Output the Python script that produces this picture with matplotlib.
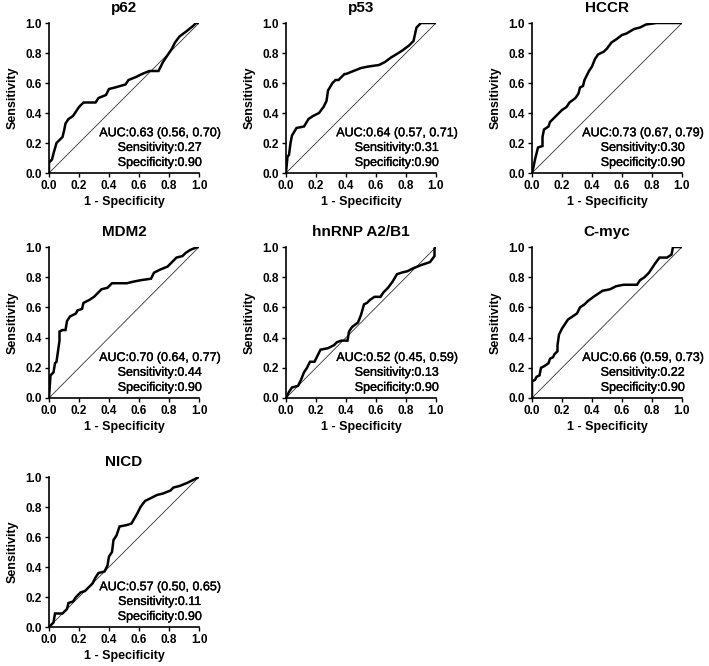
import matplotlib
matplotlib.use("Agg")
import matplotlib.pyplot as plt
import matplotlib.patheffects as pe

plt.rcParams['font.family'] = ['Liberation Sans', 'DejaVu Sans']

# ROC curves (1 - specificity, sensitivity)
p62_fpr = [0, 0, 0.02, 0.03, 0.05, 0.07, 0.09, 0.10, 0.11, 0.13, 0.16, 0.18, 0.20, 0.23, 0.31, 0.33,
           0.38, 0.40, 0.44, 0.51, 0.53, 0.58, 0.62, 0.67, 0.73, 0.76, 0.78, 0.80, 0.82, 0.84, 0.87,
           0.91, 0.96, 0.98, 1.0]
p62_tpr = [0, 0.07, 0.09, 0.13, 0.20, 0.22, 0.24, 0.28, 0.33, 0.36, 0.38, 0.41, 0.44, 0.47, 0.47, 0.50,
           0.52, 0.56, 0.57, 0.59, 0.62, 0.64, 0.66, 0.68, 0.68, 0.74, 0.77, 0.80, 0.83, 0.87, 0.91,
           0.94, 0.98, 1.0, 1.0]

p53_fpr = [0, 0.01, 0.02, 0.03, 0.04, 0.07, 0.12, 0.15, 0.18, 0.22, 0.25, 0.27, 0.28, 0.31, 0.33,
           0.35, 0.39, 0.40, 0.45, 0.50, 0.55, 0.62, 0.66, 0.70, 0.75, 0.78, 0.82, 0.85, 0.87, 0.90, 1.0]
p53_tpr = [0, 0.11, 0.12, 0.20, 0.25, 0.30, 0.31, 0.36, 0.38, 0.40, 0.44, 0.48, 0.55, 0.60, 0.62,
           0.62, 0.66, 0.66, 0.68, 0.70, 0.71, 0.72, 0.74, 0.77, 0.80, 0.82, 0.85, 0.88, 0.97, 1.0, 1.0]

hccr_fpr = [0, 0.01, 0.02, 0.03, 0.04, 0.07, 0.07, 0.08, 0.11, 0.12, 0.14, 0.17, 0.20, 0.23, 0.25,
            0.29, 0.31, 0.32, 0.34, 0.35, 0.38, 0.40, 0.42, 0.44, 0.48, 0.50, 0.53, 0.56, 0.60, 0.63,
            0.68, 0.72, 0.76, 0.83, 1.0]
hccr_tpr = [0, 0.04, 0.09, 0.13, 0.17, 0.18, 0.24, 0.29, 0.31, 0.34, 0.36, 0.39, 0.42, 0.44, 0.47,
            0.50, 0.53, 0.57, 0.58, 0.62, 0.68, 0.71, 0.76, 0.79, 0.81, 0.83, 0.87, 0.89, 0.92, 0.93,
            0.96, 0.97, 0.99, 1.0, 1.0]

mdm2_fpr = [0, 0.01, 0.02, 0.03, 0.04, 0.05, 0.06, 0.07, 0.07, 0.09, 0.11, 0.12, 0.14, 0.18, 0.19,
            0.22, 0.23, 0.27, 0.30, 0.32, 0.35, 0.39, 0.42, 0.52, 0.56, 0.61, 0.68, 0.70, 0.74, 0.79,
            0.82, 0.85, 0.89, 0.91, 0.94, 0.99, 1.0]
mdm2_tpr = [0, 0.15, 0.16, 0.17, 0.23, 0.24, 0.31, 0.38, 0.44, 0.45, 0.45, 0.51, 0.54, 0.56, 0.58,
            0.59, 0.63, 0.65, 0.67, 0.69, 0.72, 0.73, 0.76, 0.76, 0.77, 0.78, 0.79, 0.83, 0.85, 0.87,
            0.90, 0.93, 0.94, 0.96, 0.98, 1.0, 1.0]

hnrnp_fpr = [0, 0.02, 0.04, 0.08, 0.10, 0.12, 0.14, 0.16, 0.19, 0.21, 0.23, 0.28, 0.32, 0.34, 0.37,
             0.41, 0.42, 0.44, 0.48, 0.50, 0.52, 0.54, 0.56, 0.59, 0.63, 0.65, 0.68, 0.71, 0.74, 0.77,
             0.81, 0.85, 0.90, 0.93, 0.96, 0.99, 0.99, 1.0]
hnrnp_tpr = [0, 0.04, 0.07, 0.08, 0.12, 0.17, 0.20, 0.24, 0.24, 0.28, 0.32, 0.33, 0.35, 0.37, 0.38,
             0.38, 0.44, 0.47, 0.50, 0.55, 0.62, 0.63, 0.65, 0.67, 0.67, 0.70, 0.73, 0.77, 0.82, 0.83,
             0.84, 0.86, 0.88, 0.89, 0.90, 0.94, 0.99, 1.0]

cmyc_fpr = [0, 0, 0.02, 0.03, 0.05, 0.06, 0.08, 0.11, 0.12, 0.14, 0.15, 0.17, 0.17, 0.18, 0.20, 0.22,
            0.24, 0.27, 0.30, 0.32, 0.35, 0.37, 0.41, 0.44, 0.47, 0.52, 0.56, 0.61, 0.70, 0.72, 0.75,
            0.78, 0.80, 0.82, 0.85, 0.90, 0.93, 0.94, 1.0]
cmyc_tpr = [0, 0.11, 0.12, 0.14, 0.15, 0.20, 0.21, 0.23, 0.26, 0.27, 0.29, 0.31, 0.35, 0.42, 0.46, 0.49,
            0.52, 0.54, 0.56, 0.60, 0.62, 0.64, 0.67, 0.69, 0.71, 0.72, 0.74, 0.75, 0.75, 0.78, 0.80,
            0.83, 0.86, 0.89, 0.93, 0.93, 0.95, 1.0, 1.0]

nicd_fpr = [0, 0.03, 0.04, 0.09, 0.12, 0.13, 0.16, 0.18, 0.21, 0.24, 0.27, 0.29, 0.31, 0.33, 0.37,
            0.39, 0.40, 0.42, 0.43, 0.45, 0.47, 0.52, 0.55, 0.59, 0.61, 0.64, 0.68, 0.72, 0.76, 0.81,
            0.83, 0.87, 0.92, 0.96, 1.0]
nicd_tpr = [0, 0.03, 0.09, 0.09, 0.12, 0.16, 0.17, 0.20, 0.23, 0.24, 0.27, 0.29, 0.33, 0.36, 0.37,
            0.41, 0.47, 0.50, 0.58, 0.61, 0.67, 0.68, 0.69, 0.76, 0.80, 0.84, 0.86, 0.88, 0.89, 0.91,
            0.93, 0.94, 0.96, 0.98, 1.0]

names = ["p62", "p53", "HCCR", "MDM2", "hnRNP A2/B1", "C-myc", "NICD"]
curves = [(p62_fpr, p62_tpr), (p53_fpr, p53_tpr), (hccr_fpr, hccr_tpr), (mdm2_fpr, mdm2_tpr),
          (hnrnp_fpr, hnrnp_tpr), (cmyc_fpr, cmyc_tpr), (nicd_fpr, nicd_tpr)]
auc_text = ["0.63 (0.56, 0.70)", "0.64 (0.57, 0.71)", "0.73 (0.67, 0.79)", "0.70 (0.64, 0.77)",
            "0.52 (0.45, 0.59)", "0.66 (0.59, 0.73)", "0.57 (0.50, 0.65)"]
sens = [0.27, 0.31, 0.30, 0.44, 0.13, 0.22, 0.11]
spec = [0.90, 0.90, 0.90, 0.90, 0.90, 0.90, 0.90]

W, H = 709, 666
fig = plt.figure(figsize=(W / 100, H / 100), dpi=100)

# axes boxes in pixels: left, top (1.0 line), bottom (0.0 line)
lefts = [49, 286, 532]
rows = [(23, 173), (247, 398), (477, 627)]
size = 150
ticks = [0, 0.2, 0.4, 0.6, 0.8, 1.0]
tick_lbls = ["0.0", "0.2", "0.4", "0.6", "0.8", "1.0"]
# a little heavier than regular for the annotation text
medium = [pe.withStroke(linewidth=0.25, foreground="black")]

for i, name in enumerate(names):
    r, c = divmod(i, 3)
    top, bot = rows[r]
    ax = fig.add_axes([lefts[c] / W, (H - bot) / H, size / W, (bot - top) / H])
    ax.plot([0, 1], [0, 1], color="#333333", lw=0.6)
    fpr, tpr = curves[i]
    ax.plot(fpr, tpr, color="black", lw=1.8, solid_joinstyle="miter")
    ax.set_xlim(0, 1)
    ax.set_ylim(0, 1)
    ax.set_xticks(ticks)
    ax.set_yticks(ticks)
    ax.set_xticklabels(tick_lbls, fontweight="bold")
    ax.set_yticklabels(tick_lbls, fontweight="bold")
    ax.tick_params(labelsize=8.5, length=3, width=1.0, pad=2)
    for s in ["top", "right"]:
        ax.spines[s].set_visible(False)
    for s in ["left", "bottom"]:
        ax.spines[s].set_linewidth(1.2)
    ax.set_title(name, fontsize=11, fontweight="bold", pad=8)
    ax.set_xlabel("1 - Specificity", fontsize=9, fontweight="bold", labelpad=3)
    ax.set_ylabel("Sensitivity", fontsize=9, fontweight="bold", labelpad=5)
    ax.text(0.74, 0.265, "AUC:" + auc_text[i], fontsize=9, ha="center", va="center", path_effects=medium)
    ax.text(0.74, 0.167, "Sensitivity:%.2f" % sens[i], fontsize=9, ha="center", va="center", path_effects=medium)
    ax.text(0.74, 0.067, "Specificity:%.2f" % spec[i], fontsize=9, ha="center", va="center", path_effects=medium)

plt.savefig("out.png", dpi=100)
